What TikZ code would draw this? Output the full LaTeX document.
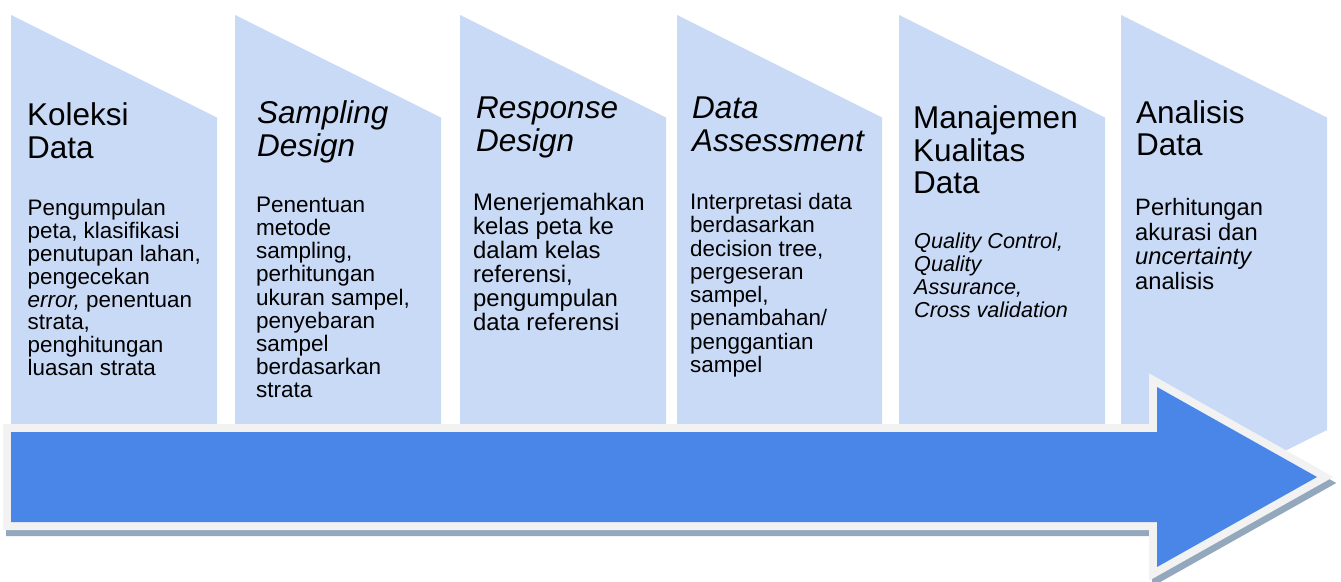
\documentclass[tikz,border=0pt]{standalone}
\usepackage{fontspec}
\setmainfont{Liberation Sans}
\definecolor{panelc}{HTML}{C9DAF6}
\definecolor{arrowc}{HTML}{4A86E8}
\definecolor{rimc}{HTML}{F2F2F2}
\definecolor{shadowc}{HTML}{93A8BD}
\begin{document}
\begin{tikzpicture}[x=1pt,y=-1pt,
  panel/.style={fill=panelc},
  ttl/.style={anchor=north west, inner sep=0pt, align=left, font=\fontsize{31.5}{33}\selectfont},
  ittl/.style={ttl, font=\fontsize{31.5}{33}\selectfont\itshape},
  body/.style={anchor=north west, inner sep=0pt, align=left},
  arrowpath/.style={line join=miter},
  sh/.style={xshift=3pt, yshift=-6pt}
]
\useasboundingbox (0,0) rectangle (1341,581);
% panels
\foreach \a/\b in {11/217,235/441,460/666,677/882,899/1105,1121/1327}
  \fill[panel] (\a,15) -- (\b,117.5) -- (\b,430) -- (\a,532.5) -- cycle;
% arrow coordinates
\coordinate (p1) at (11,432);
\coordinate (p2) at (1157,432);
\coordinate (p3) at (1157,387);
\coordinate (p4) at (1317,477);
\coordinate (p5) at (1157,567);
\coordinate (p6) at (1157,522);
\coordinate (p7) at (11,522);
% shadow
\path[draw=shadowc, fill=shadowc, line width=16pt, arrowpath]
  ([sh]p1) -- ([sh]p2) -- ([sh]p3) -- ([sh]p4) -- ([sh]p5) -- ([sh]p6) -- ([sh]p7) -- cycle;
% rim
\path[draw=rimc, fill=rimc, line width=16pt, arrowpath] (p1) -- (p2) -- (p3) -- (p4) -- (p5) -- (p6) -- (p7) -- cycle;
% body
\fill[arrowc] (p1) -- (p2) -- (p3) -- (p4) -- (p5) -- (p6) -- (p7) -- cycle;
% texts
\node[ttl] (t1) at (27,102.5) {Koleksi\\Data};
\node[body, font=\fontsize{22.4}{22.9}\selectfont] (b1) at (27.5,199)
  {Pengumpulan\\peta, klasifikasi\\penutupan lahan,\\pengecekan\\\textit{error,} penentuan\\strata,\\penghitungan\\luasan strata};
\node[ittl] (t2) at (257,100.5) {Sampling\\Design};
\node[body, font=\fontsize{22.5}{23.1}\selectfont] (b2) at (256,197)
  {Penentuan\\metode\\sampling,\\perhitungan\\ukuran sampel,\\penyebaran\\sampel\\berdasarkan\\strata};
\node[ittl] (t3) at (476,97) {Response\\Design};
\node[body, font=\fontsize{23.9}{24}\selectfont] (b3) at (473,193)
  {Menerjemahkan\\kelas peta ke\\dalam kelas\\referensi,\\pengumpulan\\data referensi};
\node[ittl] (t4) at (692,97) {Data\\Assessment};
\node[body, font=\fontsize{22.4}{23.3}\selectfont] (b4) at (690,193)
  {Interpretasi data\\berdasarkan\\decision tree,\\pergeseran\\sampel,\\penambahan/\\penggantian\\sampel};
\node[ttl, font=\fontsize{31.5}{32.5}\selectfont] (t5) at (913,105.5) {Manajemen\\Kualitas\\Data};
\node[body, font=\fontsize{21.6}{23}\selectfont\itshape] (b5) at (914,233)
  {Quality Control,\\Quality\\Assurance,\\Cross validation};
\node[ttl, font=\fontsize{31.5}{32.5}\selectfont] (t6) at (1136,100) {Analisis\\Data};
\node[body, font=\fontsize{23.7}{24.7}\selectfont] (b6) at (1135,198)
  {Perhitungan\\akurasi dan\\\textit{uncertainty}\\analisis};
\end{tikzpicture}
\end{document}
